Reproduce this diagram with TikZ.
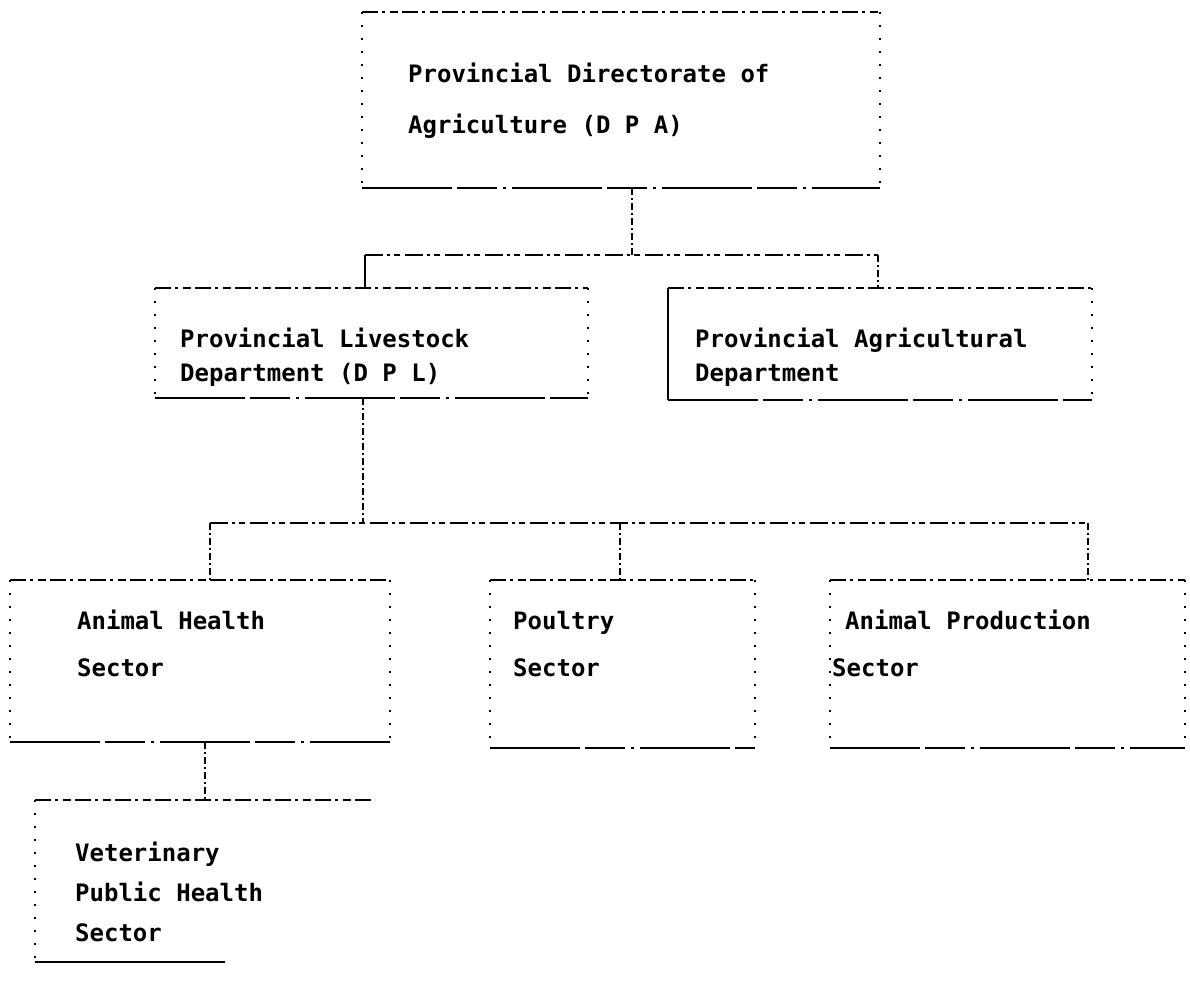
\documentclass[tikz,border=0pt]{standalone}
\usepackage{fontspec}
\setmonofont{DejaVu Sans Mono}
\begin{document}
\begin{tikzpicture}[x=1pt,y=-1pt,
  box/.style={rectangle,inner sep=0pt,outer sep=0pt},
  topedge/.style={line width=1.3pt,dash pattern=on 16pt off 4pt on 3pt off 5pt on 8pt off 4pt},
  botedge/.style={line width=1.8pt,dash pattern=on 90pt off 5pt on 40pt off 6pt on 3pt off 6pt},
  sideedge/.style={line width=1.1pt,dash pattern=on 2pt off 11pt},
  conn/.style={line width=1.2pt,dash pattern=on 7pt off 3pt on 2pt off 3pt},
  bus/.style={line width=1.3pt,dash pattern=on 18pt off 4pt on 3pt off 4pt on 6pt off 5pt},
  txt/.style={anchor=base west,inner sep=0pt,font=\fontsize{24}{29}\selectfont\ttfamily\bfseries}]
\useasboundingbox (0,0) rectangle (1190,982);
\newcommand\edgesofbox[1]{%
  \draw[topedge] (#1.north west) -- (#1.north east);
  \draw[botedge] (#1.south west) -- (#1.south east);
  \draw[sideedge] (#1.north west) -- (#1.south west);
  \draw[sideedge] (#1.north east) -- (#1.south east);}
% boxes
\node[box,minimum width=518pt,minimum height=176pt] (dpa) at (621,100) {};
\node[box,minimum width=433pt,minimum height=110pt] (dpl) at (371.5,343) {};
\node[box,minimum width=424pt,minimum height=112pt] (pad) at (880,344) {};
\node[box,minimum width=380pt,minimum height=162pt] (ahs) at (200,661) {};
\node[box,minimum width=265pt,minimum height=168pt] (pou) at (622.5,664) {};
\node[box,minimum width=355pt,minimum height=168pt] (apr) at (1007.5,664) {};
\node[box,minimum width=340pt,minimum height=162pt] (vps) at (205,881) {};
\edgesofbox{dpa}
\edgesofbox{dpl}
\edgesofbox{ahs}
\edgesofbox{pou}
\edgesofbox{apr}
% provincial agricultural department: solid left side
\draw[topedge] (pad.north west) -- (pad.north east);
\draw[botedge] (pad.south west) -- (pad.south east);
\draw[line width=1.6pt] (pad.north west) -- (pad.south west);
\draw[sideedge] (pad.north east) -- (pad.south east);
% veterinary box: top line, short bottom line, dotted left
\draw[topedge] (vps.north west) -- (vps.north east);
\draw[line width=1.8pt] (vps.south west) -- ++(190,0) coordinate (vpsend);
\draw[sideedge] (vps.north west) -- (vps.south west);
% texts
\node[txt] (t1a) at (408,82) {Provincial Directorate of};
\node[txt] (t1b) at (408,133) {Agriculture (D P A)};
\node[txt] (t2a) at (180,347) {Provincial Livestock};
\node[txt] (t2b) at (180,381) {Department (D P L)};
\node[txt] (t3a) at (695,347) {Provincial Agricultural};
\node[txt] (t3b) at (695,381) {Department};
\node[txt] (t4a) at (77,629) {Animal Health};
\node[txt] (t4b) at (77,676) {Sector};
\node[txt] (t5a) at (513,629) {Poultry};
\node[txt] (t5b) at (513,676) {Sector};
\node[txt] (t6a) at (845,629) {Animal Production};
\node[txt] (t6b) at (832,676) {Sector};
\node[txt] (t7a) at (75,861) {Veterinary};
\node[txt] (t7b) at (75,901) {Public Health};
\node[txt] (t7c) at (75,941) {Sector};
% level 1 connectors
\coordinate (b1) at (632,255);
\coordinate (b1l) at (365,255);
\coordinate (b1r) at (878,255);
\draw[conn] (dpa.south -| b1) -- (b1);
\draw[bus] (b1l) -- (b1r);
\draw[line width=1.6pt] (b1l) -- (dpl.north -| b1l);
\draw[conn] (b1r) -- (pad.north -| b1r);
% level 2 connectors
\coordinate (b2) at (363,523);
\coordinate (b2l) at (210,523);
\coordinate (b2m) at (620,523);
\coordinate (b2r) at (1088,523);
\draw[conn] (dpl.south -| b2) -- (b2);
\draw[bus] (b2l) -- (b2r);
\draw[conn] (b2l) -- (ahs.north -| b2l);
\draw[conn] (b2m) -- (pou.north -| b2m);
\draw[conn] (b2r) -- (apr.north -| b2r);
% level 3 connector
\coordinate (b3) at (205,742);
\draw[conn] (ahs.south -| b3) -- (vps.north -| b3);
\end{tikzpicture}
\end{document}
